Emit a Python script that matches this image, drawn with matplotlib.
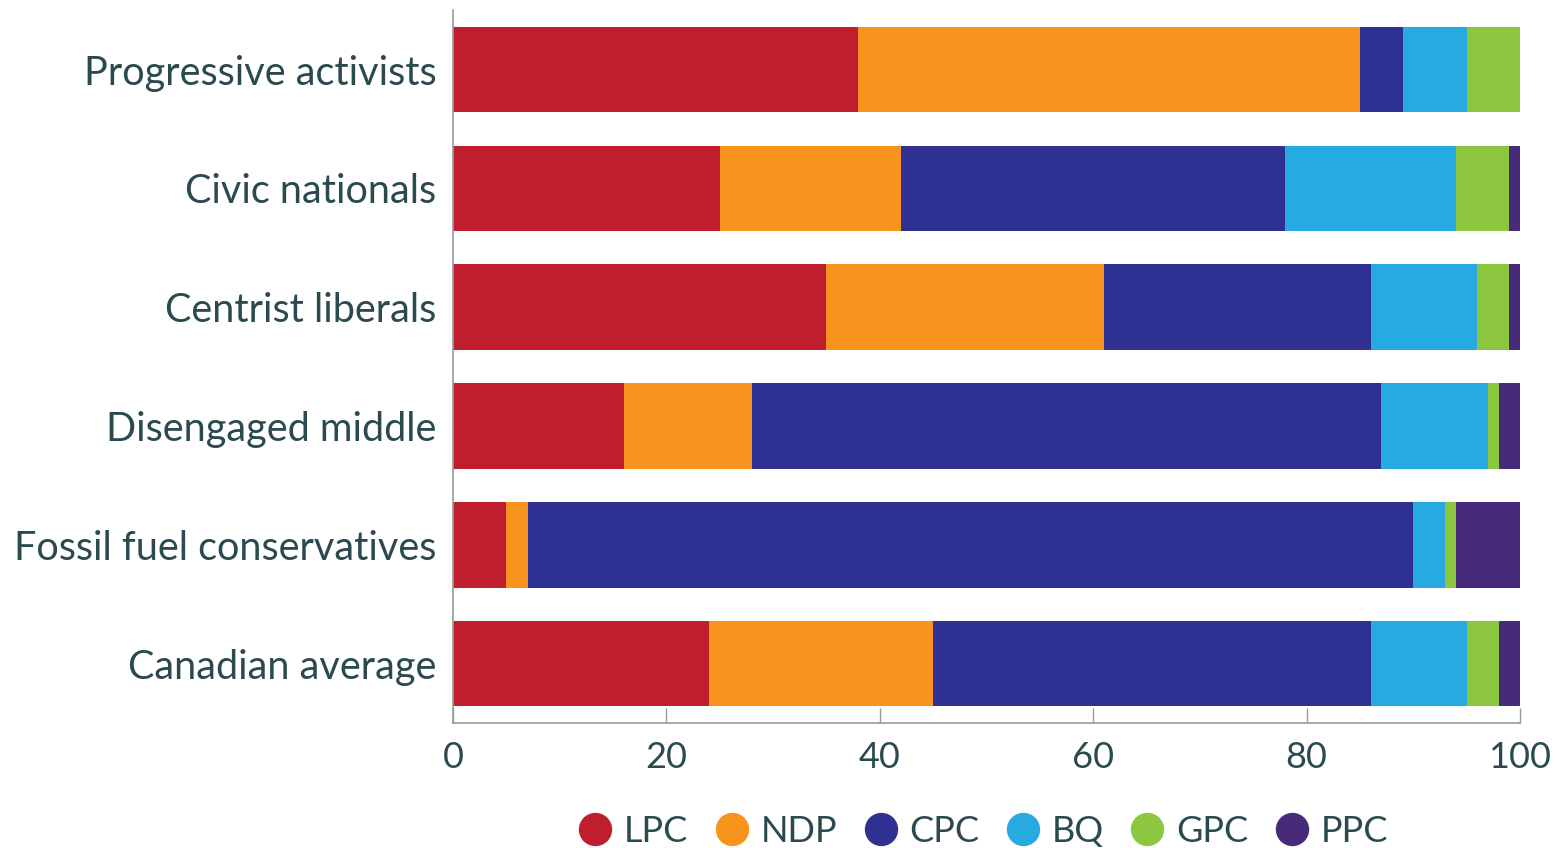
import matplotlib.pyplot as plt
from matplotlib.lines import Line2D

segments = ["Progressive activists", "Civic nationals", "Centrist liberals",
            "Disengaged middle", "Fossil fuel conservatives", "Canadian average"]
parties = ["LPC", "NDP", "CPC", "BQ", "GPC", "PPC"]
colors = ["#be1e2d", "#f7941d", "#2e3192", "#27aae1", "#8dc63f", "#472a7a"]

lpc = [38, 25, 35, 16, 5, 24]
ndp = [47, 17, 26, 12, 2, 21]
cpc = [4, 36, 25, 59, 83, 41]
bq = [6, 16, 10, 10, 3, 9]
gpc = [5, 5, 3, 1, 1, 3]
ppc = [0, 1, 1, 2, 6, 2]
values = [lpc, ndp, cpc, bq, gpc, ppc]

text_color = "#2b4a50"
plt.rcParams['font.family'] = ['Lato', 'DejaVu Sans']

fig = plt.figure(figsize=(15.55, 8.48), dpi=100)
ax = fig.add_axes([0.2913, 0.1474, 0.6862, 0.8406])

y = list(range(len(segments)))
left = [0] * len(segments)
for name, vals, c in zip(parties, values, colors):
    ax.barh(y, vals, left=left, height=0.72, color=c, label=name)
    left = [a + b for a, b in zip(left, vals)]

ax.set_xlim(0, 100)
ax.set_ylim(5.5, -0.5)
ax.set_yticks(y)
ax.set_yticklabels(segments, fontsize=28.5, color=text_color, va='center_baseline')
ax.set_xticks([0, 20, 40, 60, 80, 100])
ax.tick_params(axis='y', length=0, pad=12)
ax.tick_params(axis='x', direction='in', length=11, width=1, color="#9a9a9a",
               labelsize=26, labelcolor=text_color, pad=13)
for s in ["top", "right"]:
    ax.spines[s].set_visible(False)
for s in ["left", "bottom"]:
    ax.spines[s].set_color("#9a9a9a")
    ax.spines[s].set_linewidth(1.2)

handles = [Line2D([], [], marker='o', linestyle='', markersize=23,
                  markerfacecolor=c, markeredgecolor=c) for c in colors]
fig.legend(handles, parties, loc='center', bbox_to_anchor=(0.632, 0.02),
           ncol=6, frameon=False, fontsize=26, labelcolor=text_color,
           handlelength=1.0, handletextpad=0.3, columnspacing=0.7)

fig.savefig("out.png", dpi=100)
